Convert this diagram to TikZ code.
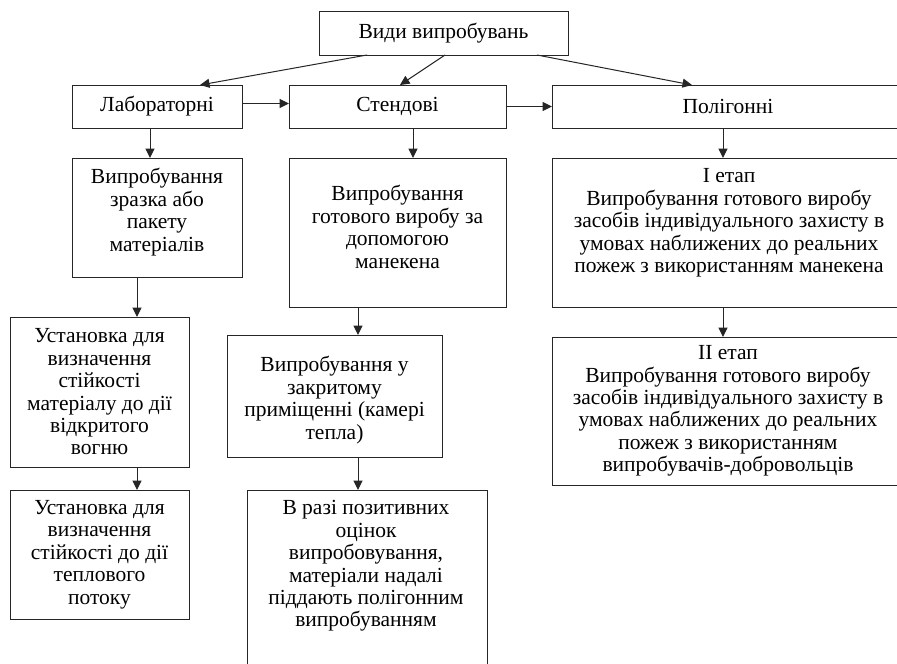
\documentclass[tikz,border=0pt]{standalone}
\usepackage{fontspec}
\setmainfont{Liberation Serif}
\usetikzlibrary{arrows.meta,calc}
\begin{document}
\begin{tikzpicture}[x=1pt,y=-1pt,
  box/.style={draw=black!85, line width=1pt, rectangle, inner sep=0pt, outer sep=0pt, align=center,
    font=\fontsize{21.5}{22.4}\selectfont},
  txt/.style={inner sep=0pt, align=center, font=\fontsize{21.5}{22.4}\selectfont},
  arr/.style={draw=black!85, line width=1pt, -{Triangle[length=9.5pt,width=9pt]}}]
\useasboundingbox (0,0) rectangle (897,664);
\fill[white] (0,0) rectangle (897,664);
\clip (0,0) rectangle (897,664);
% nodes
\node[box, minimum width=249pt, minimum height=44pt] (vydy) at (443.5,33) {Види випробувань};
\node[box, minimum width=170pt, minimum height=43pt] (lab) at (157,106.5) {Лабораторні};
\node[box, minimum width=217pt, minimum height=43pt] (sten) at (397.5,106.5) {Стендові};
\node[box, minimum width=352pt, minimum height=43pt] (pol) at (728,106.5) {Полігонні};
\node[box, minimum width=170pt, minimum height=119pt] (zraz) at (157,217.5) {};
\node[txt] (zraztext) at (157,212) {Випробування\\зразка або\\пакету\\матеріалів};
\node[box, minimum width=179pt, minimum height=150pt] (ust1) at (99.5,392) {Установка для\\визначення\\стійкості\\матеріалу до дії\\відкритого\\вогню};
\node[box, minimum width=179pt, minimum height=129pt] (ust2) at (99.5,554.5) {Установка для\\визначення\\стійкості до дії\\теплового\\потоку};
\node[box, minimum width=217pt, minimum height=149pt] (gotov) at (397.5,232.5) {};
\node[txt] (gotovtext) at (397.5,227) {Випробування\\готового виробу за\\допомогою\\манекена};
\node[box, minimum width=215pt, minimum height=122pt] (zakr) at (334.5,396) {};
\node[txt] (zakrtext) at (334.5,400) {Випробування у\\закритому\\приміщенні (камері\\тепла)};
\node[box, minimum width=240pt, minimum height=210pt] (raz) at (367,595) {};
\node[txt] (raztext) at (366,566) {В разі позитивних\\оцінок\\випробовування,\\матеріали надалі\\піддають полігонним\\випробуванням};
\node[box, minimum width=352pt, minimum height=149pt] (etap1) at (728,232.5) {};
\node[txt] (etap1text) at (729,223) {I етап\\Випробування готового виробу\\засобів індивідуального захисту в\\умовах наближених до реальних\\пожеж з використанням манекена};
\node[box, minimum width=352pt, minimum height=148pt] (etap2) at (728,411) {II етап\\Випробування готового виробу\\засобів індивідуального захисту в\\умовах наближених до реальних\\пожеж з використанням\\випробувачів-добровольців};
% column coordinates
\coordinate (cz) at (150,0);
\coordinate (cu) at (137,0);
\coordinate (cg) at (413,0);
\coordinate (ck) at (358,0);
\coordinate (ce) at (723,0);
% connectors
\draw[arr] ($(vydy.south west)+(48,0)$) -- ($(lab.north)+(43,0)$);
\draw[arr] ($(vydy.south)+(1.5,0)$) -- ($(sten.north)+(2.5,0)$);
\draw[arr] ($(vydy.south east)+(-31,0)$) -- ($(pol.north)+(-36,0)$);
\draw[arr] ($(lab.east)+(0,-3)$) -- ($(sten.west)+(0,-3)$);
\draw[arr] (sten.east) -- (pol.west);
\draw[arr] (lab.south -| cz) -- (zraz.north -| cz);
\draw[arr] (zraz.south -| cu) -- (ust1.north -| cu);
\draw[arr] (ust1.south -| cu) -- (ust2.north -| cu);
\draw[arr] (sten.south -| cg) -- (gotov.north -| cg);
\draw[arr] (gotov.south -| ck) -- (zakr.north -| ck);
\draw[arr] (zakr.south -| ck) -- (raz.north -| ck);
\draw[arr] (pol.south -| ce) -- (etap1.north -| ce);
\draw[arr] (etap1.south -| ce) -- (etap2.north -| ce);
\end{tikzpicture}
\end{document}
